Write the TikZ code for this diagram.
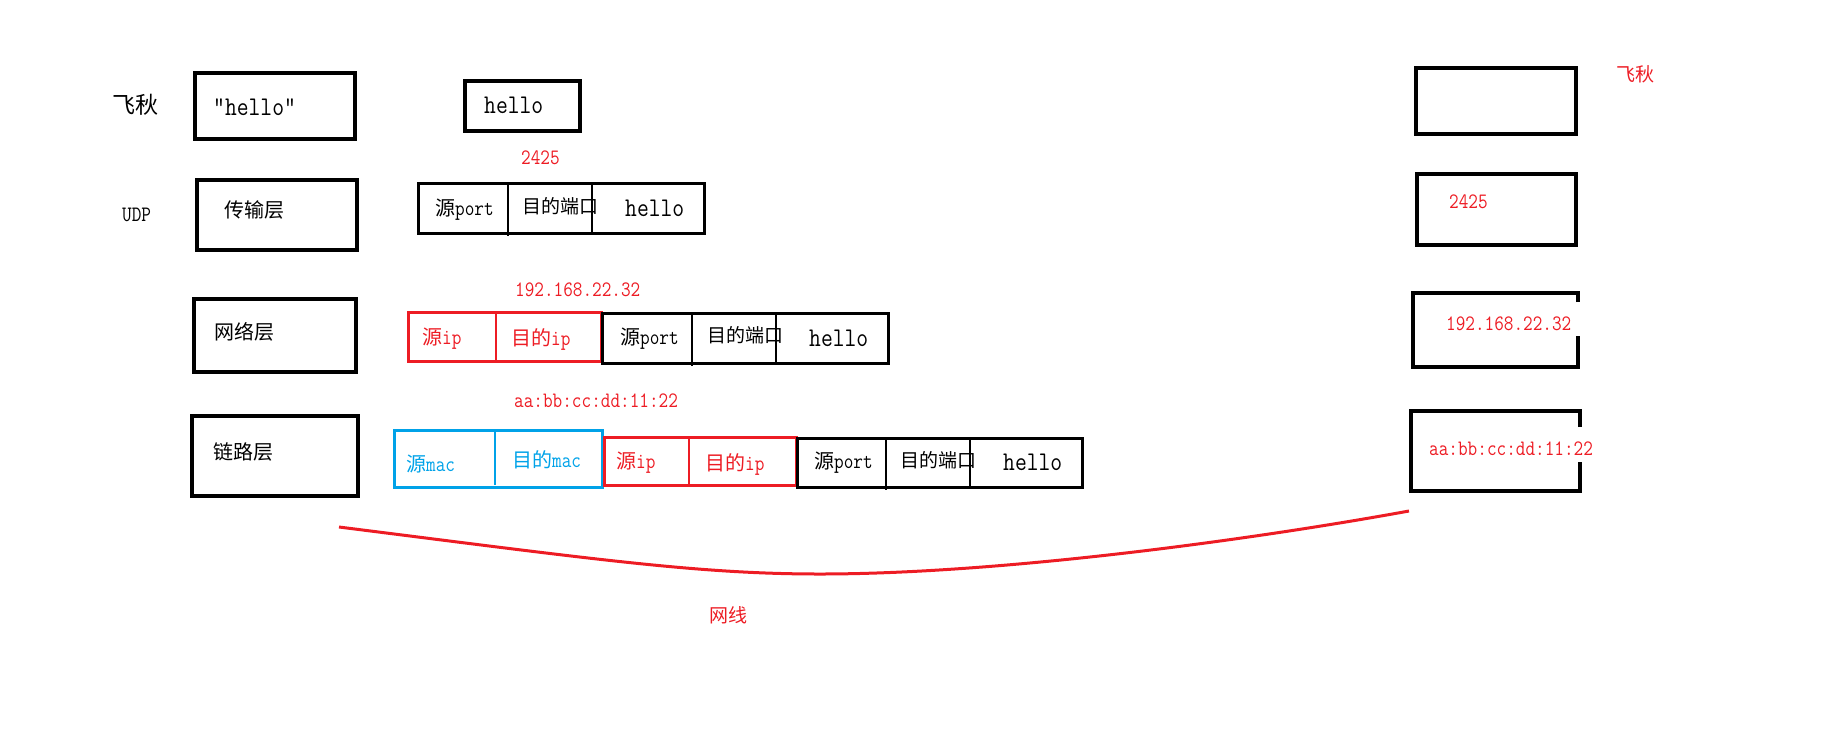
\documentclass[tikz,border=0pt]{standalone}
\usepackage{fontspec}
\newfontfamily\cjk{Noto Sans CJK SC}
\newfontfamily\lat{Latin Modern Mono}[FakeStretch=0.85]
\definecolor{pred}{HTML}{ED1C24}
\definecolor{pblue}{HTML}{00A2E8}
\newcommand\myfs[1]{\fontsize{#1}{#1}\selectfont}
\newcommand\zh[1]{{\cjk\myfs{20}#1}}
\newcommand\mkbox[6]{\node[#1, anchor=north west, inner sep=0pt, outer sep=0pt, minimum width={#5-#3}, minimum height={#6-#4}] (#2) at (#3,#4) {};}
\begin{document}
\begin{tikzpicture}[x=1pt,y=-1pt,
  box/.style={draw, line width=3.3pt},
  rowbox/.style={draw, line width=3pt},
  linkbox/.style={draw, line width=3pt},
  div/.style={line width=2.4pt},
  thindiv/.style={line width=2.4pt},
  txt/.style={anchor=west, inner sep=0pt, font=\lat\myfs{22}},
  num/.style={txt, text=pred},
  big/.style={txt, font=\lat\myfs{27}},
  zhtxt/.style={txt, font=\cjk\myfs{20}},
  wire/.style={draw=pred, line width=3pt}]
\useasboundingbox (0,0) rectangle (1842,740);

% ---------- left column ----------
\node[txt, font=\cjk\myfs{23}] (tfq) at (112,105) {飞秋};
\mkbox{box}{b1}{195}{73}{355}{139}
\node[big] (th1) at (213,107) {"hello"};
\node[txt] (tudp) at (122,215) {UDP};
\mkbox{box}{b2}{197}{180}{357}{250}
\node[zhtxt] (tcs) at (224,210) {传输层};
\mkbox{box}{b3}{194}{299}{356}{372}
\node[zhtxt] (twl) at (214,332) {网络层};
\mkbox{box}{b4}{192}{416}{358}{496}
\node[zhtxt] (tll) at (213,452) {链路层};

% ---------- application ----------
\mkbox{box}{hb}{465}{81}{580}{131}
\node[big] (th2) at (484,105) {hello};

% ---------- transport row ----------
\node[num] (n2425) at (521,158) {2425};
\mkbox{rowbox}{ur}{418}{183}{704}{233}
\node[txt] (u1) at (435,210) {\zh{源}port};
\node[zhtxt, font=\cjk\myfs{19}] (u2) at (522,206) {目的端口};
\node[big] (u3) at (625,208) {hello};
\draw[div] (508,183) -- (508,236);
\draw[div] (592,183) -- (592,233);

% ---------- network row ----------
\node[num] (nip) at (515,290) {192.168.22.32};
\mkbox{rowbox, draw=pred}{nr1}{408}{312}{601}{361}
\draw[div, draw=pred, line width=2.8pt] (496,312) -- (496,361);
\node[txt, text=pred] (n1) at (422,339) {\zh{源}ip};
\node[txt, text=pred] (n2) at (511,339) {\zh{目的}ip};
\mkbox{rowbox}{nr2}{602}{313}{888}{363}
\node[txt] (n3) at (620,339) {\zh{源}port};
\node[zhtxt, font=\cjk\myfs{19}] (n4) at (707,335) {目的端口};
\node[big] (n5) at (809,338) {hello};
\draw[div] (692,313) -- (692,366);
\draw[div] (776,313) -- (776,363);

% ---------- link row ----------
\node[num] (nmac) at (514,401) {aa:bb:cc:dd:11:22};
\mkbox{linkbox, draw=pblue}{lr1}{394}{430}{602}{487}
\draw[thindiv, draw=pblue] (495,430) -- (495,485);
\node[txt, text=pblue] (l1) at (406,464) {\zh{源}mac};
\node[txt, text=pblue] (l2) at (512,460) {\zh{目的}mac};
\mkbox{linkbox, draw=pred}{lr2}{604}{437}{796}{485}
\draw[thindiv, draw=pred] (689,437) -- (689,485);
\node[txt, text=pred] (l3) at (616,463) {\zh{源}ip};
\node[txt, text=pred] (l4) at (705,464) {\zh{目的}ip};
\mkbox{linkbox}{lr3}{797}{438}{1082}{487}
\node[txt] (l5) at (814,463) {\zh{源}port};
\node[zhtxt, font=\cjk\myfs{19}] (l6) at (900,460) {目的端口};
\node[big] (l7) at (1003,462) {hello};
\draw[thindiv] (886,438) -- (886,490);
\draw[thindiv] (970,438) -- (970,487);

% ---------- right column ----------
\mkbox{box}{r1}{1416}{68}{1576}{134}
\node[txt, font=\cjk\myfs{19}, text=pred] (rfq) at (1616,74) {飞秋};
\mkbox{box}{r2}{1417}{174}{1576}{245}
\node[num] (r2t) at (1449,202) {2425};
\mkbox{}{r3}{1413}{293}{1578}{367}
\draw[box] ([yshift=-9pt]r3.north east) -- (r3.north east) -- (r3.north west) -- (r3.south west) -- (r3.south east) -- ([yshift=31pt]r3.south east);
\node[num] (r3t) at (1446,324) {192.168.22.32};
\mkbox{}{r4}{1411}{411}{1580}{491}
\draw[box] ([yshift=-16pt]r4.north east) -- (r4.north east) -- (r4.north west) -- (r4.south west) -- (r4.south east) -- ([yshift=29pt]r4.south east);
\node[num] (r4t) at (1429,449) {aa:bb:cc:dd:11:22};

% ---------- wire ----------
\coordinate (cs) at (339,527);
\coordinate (cm) at (820,574);
\coordinate (ce) at (1409,511);
\draw[wire] (cs) .. controls (600,560) and (700,574) .. (cm) .. controls (1000,574) and (1250,540) .. (ce);
\node[txt, font=\cjk\myfs{19}, text=pred] (wx) at (709,615) {网线};
\end{tikzpicture}
\end{document}
